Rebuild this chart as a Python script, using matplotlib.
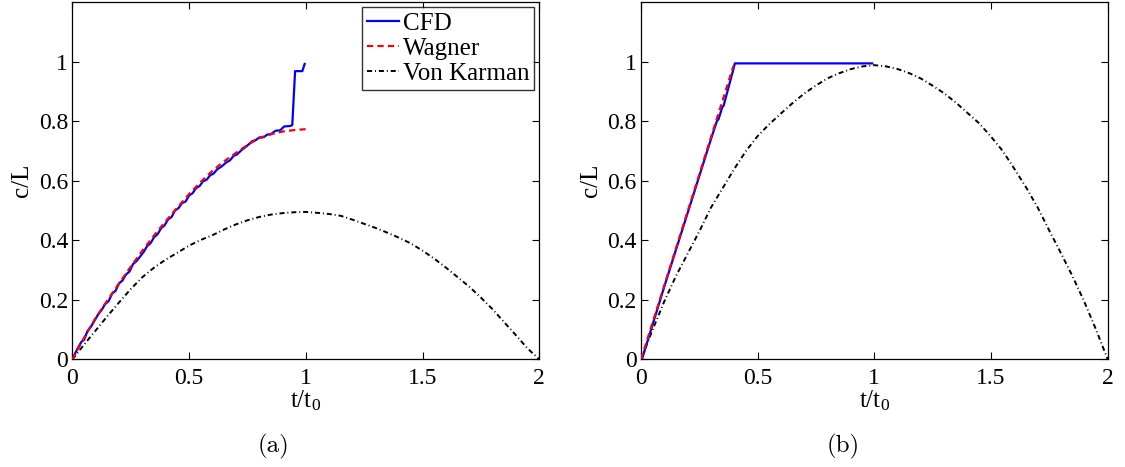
import numpy as np
import matplotlib
matplotlib.use("Agg")
import matplotlib.pyplot as plt

plt.rcParams['font.family'] = ['Liberation Serif', 'DejaVu Serif']
plt.rcParams['mathtext.fontset'] = 'custom'
plt.rcParams['mathtext.rm'] = 'Liberation Serif'
plt.rcParams['mathtext.it'] = 'Liberation Serif:italic'

FS = 17

# ---- (a) ----
t_cfd_a = [0.000, 0.012, 0.025, 0.040, 0.050, 0.065, 0.080, 0.095, 0.110, 0.125,
           0.140, 0.155, 0.170, 0.185, 0.200, 0.215, 0.230, 0.245, 0.260, 0.275,
           0.290, 0.305, 0.320, 0.335, 0.350, 0.365, 0.380, 0.395, 0.410, 0.425,
           0.440, 0.455, 0.470, 0.485, 0.500, 0.515, 0.530, 0.545, 0.560, 0.575,
           0.590, 0.605, 0.620, 0.640, 0.660, 0.675, 0.690, 0.705, 0.725, 0.742,
           0.771, 0.785, 0.800, 0.820, 0.835, 0.850, 0.871, 0.890, 0.907, 0.935,
           0.942, 0.954, 0.985, 0.995]
c_cfd_a = [0.000, 0.020, 0.040, 0.060, 0.065, 0.095, 0.110, 0.130, 0.150, 0.165,
           0.185, 0.195, 0.220, 0.230, 0.255, 0.265, 0.285, 0.295, 0.320, 0.330,
           0.345, 0.360, 0.380, 0.390, 0.410, 0.420, 0.440, 0.450, 0.470, 0.478,
           0.500, 0.508, 0.525, 0.530, 0.550, 0.558, 0.575, 0.582, 0.598, 0.603,
           0.618, 0.624, 0.638, 0.648, 0.662, 0.668, 0.683, 0.688, 0.703, 0.713,
           0.733, 0.736, 0.745, 0.746, 0.755, 0.756, 0.768, 0.769, 0.782, 0.784,
           0.787, 0.968, 0.968, 0.992]

t_wag_a = [0.0, 0.05, 0.1, 0.15, 0.2, 0.25, 0.3, 0.35, 0.4, 0.45, 0.5,
           0.55, 0.6, 0.65, 0.7, 0.75, 0.8, 0.85, 0.9, 0.95, 1.0]
c_wag_a = [0.0, 0.072, 0.139, 0.198, 0.255, 0.311, 0.365, 0.416, 0.464, 0.510, 0.555,
           0.596, 0.633, 0.665, 0.693, 0.720, 0.743, 0.756, 0.765, 0.770, 0.773]

t_vk = [0.0, 0.05, 0.1, 0.15, 0.2, 0.25, 0.3, 0.35, 0.4, 0.45, 0.5,
        0.55, 0.6, 0.65, 0.7, 0.75, 0.8, 0.85, 0.9, 0.95, 1.0,
        1.05, 1.1, 1.15, 1.2, 1.25, 1.3, 1.35, 1.4, 1.45, 1.5,
        1.55, 1.6, 1.65, 1.7, 1.75, 1.8, 1.85, 1.9, 1.95, 2.0]
c_vk_a = [0.0, 0.049, 0.097, 0.145, 0.191, 0.236, 0.276, 0.308, 0.335, 0.358, 0.382,
          0.401, 0.417, 0.436, 0.453, 0.467, 0.478, 0.486, 0.491, 0.494, 0.495,
          0.492, 0.488, 0.482, 0.469, 0.455, 0.441, 0.425, 0.408, 0.389, 0.365,
          0.338, 0.308, 0.276, 0.244, 0.207, 0.168, 0.124, 0.081, 0.036, 0.0]

# ---- (b) ----
t_cfd_b = [0.004, 0.10, 0.20, 0.30, 0.325, 0.332, 0.348, 0.354, 0.395, 0.402, 0.991]
c_cfd_b = [0.0, 0.245, 0.492, 0.740, 0.800, 0.806, 0.846, 0.852, 0.972, 0.994, 0.994]

t_wag_b = [0.0, 0.396]
c_wag_b = [0.0, 0.985]

c_vk_b = [0.0, 0.100, 0.195, 0.280, 0.355, 0.430, 0.510, 0.575, 0.640, 0.700, 0.750,
          0.790, 0.826, 0.861, 0.893, 0.920, 0.944, 0.961, 0.975, 0.984, 0.988,
          0.984, 0.975, 0.961, 0.943, 0.919, 0.893, 0.862, 0.827, 0.792, 0.748,
          0.700, 0.640, 0.578, 0.510, 0.432, 0.356, 0.278, 0.193, 0.100, 0.0]

fig = plt.figure(figsize=(11.25, 4.67), dpi=100)
ax_a = fig.add_axes([0.0643, 0.2306, 0.4151, 0.765])
ax_b = fig.add_axes([0.5698, 0.2306, 0.4148, 0.765])

dashdot = (0, (2.6, 1.5, 0.5, 1.5))
dashed = (0, (2.8, 1.9))

for ax, tc, cc, tw, cw, cv in [(ax_a, t_cfd_a, c_cfd_a, t_wag_a, c_wag_a, c_vk_a),
                               (ax_b, t_cfd_b, c_cfd_b, t_wag_b, c_wag_b, c_vk_b)]:
    ax.plot(tc, cc, color='#0000ff', lw=1.6, label='CFD', zorder=2)
    ax.plot(tw, cw, color='#ff0000', lw=1.6, ls=dashed, label='Wagner', zorder=3)
    ax.plot(t_vk, cv, color='black', lw=1.4, ls=dashdot, label='Von Karman', zorder=1)
    ax.set_xlim(0, 2)
    ax.set_ylim(0, 1.2)
    ax.set_xticks([0, 0.5, 1, 1.5, 2])
    ax.set_xticklabels(['0', '0.5', '1', '1.5', '2'])
    ax.set_yticks([0, 0.2, 0.4, 0.6, 0.8, 1])
    ax.set_yticklabels(['0', '0.2', '0.4', '0.6', '0.8', '1'])
    ax.tick_params(direction='in', top=True, right=True, labelsize=FS,
                   length=5, width=0.8)
    ax.tick_params(axis='x', pad=6)
    ax.tick_params(axis='y', pad=3)
    for s in ax.spines.values():
        s.set_linewidth(0.9)
    ax.set_xlabel(r'$\mathrm{t/t_0}$', fontsize=FS + 1, labelpad=0)
    ax.set_ylabel('c/L', fontsize=FS + 1, labelpad=4)

# legend lists lines in plotting order: CFD, Wagner, Von Karman
leg = ax_a.legend(loc='upper right', fontsize=FS + 1, frameon=True, fancybox=False,
                  edgecolor='black', borderpad=0.2, labelspacing=0.1,
                  handlelength=1.3, handletextpad=0.15, borderaxespad=0.2)
leg.get_frame().set_linewidth(1.0)

fig.text(0.243, 0.043, '(a)', fontsize=FS + 1, family='cmr10', ha='center', va='center')
fig.text(0.7495, 0.043, '(b)', fontsize=FS + 1, family='cmr10', ha='center', va='center')

fig.savefig('out.png', dpi=100)
